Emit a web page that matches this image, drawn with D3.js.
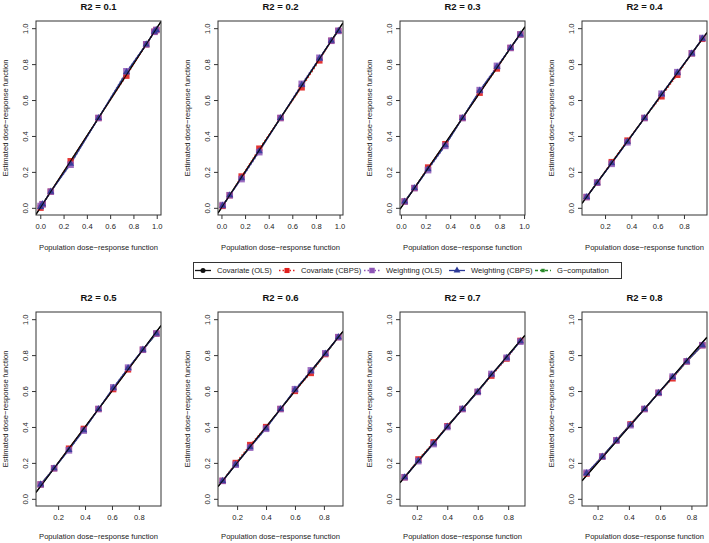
<!DOCTYPE html>
<html><head><meta charset="utf-8">
<script src="https://cdn.jsdelivr.net/npm/d3@7"></script>
<style>
body{margin:0;background:#fff;}
svg{display:block;font-family:"Liberation Sans",Arial,sans-serif;}
</style></head>
<body><svg id="c" width="709" height="543"></svg>
<script>
const panelTitles = ["R2 = 0.1","R2 = 0.2","R2 = 0.3","R2 = 0.4","R2 = 0.5","R2 = 0.6","R2 = 0.7","R2 = 0.8"];
const seriesNames = ["Covariate (OLS)","Covariate (CBPS)","Weighting (OLS)","Weighting (CBPS)","G\u2212computation"];
const yTicks = [0,0.2,0.4,0.6,0.8,1.0];
const xTicks = [
  [0,0.2,0.4,0.6,0.8,1.0],[0,0.2,0.4,0.6,0.8,1.0],[0,0.2,0.4,0.6,0.8,1.0],[0.2,0.4,0.6,0.8],
  [0.2,0.4,0.6,0.8],[0.2,0.4,0.6,0.8],[0.2,0.4,0.6,0.8],[0.2,0.4,0.6,0.8]
];
const popX = [
  [0.003,0.02,0.09,0.26,0.50,0.74,0.91,0.98,0.997],
  [0.01,0.07,0.17,0.32,0.50,0.68,0.83,0.93,0.99],
  [0.03,0.11,0.22,0.36,0.50,0.64,0.78,0.89,0.97],
  [0.06,0.14,0.25,0.37,0.50,0.63,0.75,0.86,0.94],
  [0.07,0.17,0.28,0.39,0.50,0.61,0.72,0.83,0.93],
  [0.10,0.19,0.29,0.40,0.50,0.60,0.71,0.81,0.90],
  [0.12,0.21,0.31,0.40,0.50,0.60,0.69,0.79,0.88],
  [0.13,0.23,0.32,0.41,0.50,0.59,0.68,0.77,0.87]
];
const covOLS = [
  [0.00,0.02,0.09,0.25,0.50,0.75,0.91,0.98,0.99],
  [0.01,0.07,0.17,0.32,0.50,0.68,0.83,0.93,0.985],
  [0.035,0.11,0.22,0.35,0.50,0.65,0.78,0.89,0.965],
  [0.06,0.14,0.25,0.37,0.50,0.63,0.75,0.86,0.94],
  [0.08,0.17,0.275,0.385,0.50,0.615,0.725,0.83,0.92],
  [0.10,0.195,0.29,0.395,0.50,0.605,0.705,0.805,0.90],
  [0.12,0.215,0.31,0.405,0.50,0.595,0.69,0.785,0.88],
  [0.14,0.235,0.325,0.415,0.50,0.59,0.675,0.765,0.855]
];
const covCBPS = [
  [0.00,0.02,0.09,0.26,0.50,0.735,0.91,0.98,0.99],
  [0.01,0.07,0.175,0.33,0.50,0.67,0.82,0.93,0.985],
  [0.035,0.11,0.225,0.355,0.50,0.64,0.775,0.89,0.965],
  [0.06,0.14,0.255,0.375,0.50,0.62,0.74,0.86,0.94],
  [0.08,0.17,0.28,0.39,0.50,0.61,0.72,0.83,0.92],
  [0.10,0.20,0.30,0.40,0.50,0.60,0.70,0.805,0.90],
  [0.12,0.22,0.315,0.405,0.50,0.595,0.685,0.78,0.88],
  [0.14,0.235,0.325,0.415,0.50,0.59,0.67,0.765,0.855]
];
const wtOLS = [
  [0.01,0.02,0.09,0.24,0.50,0.76,0.91,0.98,0.99],
  [0.015,0.07,0.16,0.31,0.50,0.69,0.835,0.93,0.985],
  [0.035,0.11,0.21,0.345,0.50,0.655,0.79,0.89,0.965],
  [0.06,0.14,0.245,0.365,0.50,0.635,0.755,0.86,0.945],
  [0.08,0.17,0.27,0.38,0.50,0.62,0.73,0.83,0.92],
  [0.10,0.19,0.285,0.39,0.50,0.61,0.715,0.81,0.90],
  [0.12,0.21,0.305,0.40,0.50,0.595,0.695,0.785,0.875],
  [0.145,0.235,0.325,0.41,0.50,0.59,0.68,0.765,0.855]
];
const wtCBPS = [
  [0.005,0.02,0.09,0.245,0.50,0.755,0.91,0.98,0.99],
  [0.012,0.07,0.165,0.315,0.50,0.685,0.832,0.93,0.985],
  [0.035,0.11,0.215,0.348,0.50,0.652,0.785,0.89,0.965],
  [0.06,0.14,0.248,0.368,0.50,0.632,0.752,0.86,0.942],
  [0.08,0.17,0.272,0.382,0.50,0.618,0.728,0.83,0.92],
  [0.10,0.192,0.288,0.392,0.50,0.608,0.71,0.808,0.90],
  [0.12,0.212,0.308,0.402,0.50,0.595,0.692,0.785,0.878],
  [0.143,0.235,0.325,0.412,0.50,0.59,0.678,0.765,0.855]
];
const gComp = [
  [0.00,0.02,0.09,0.25,0.50,0.75,0.91,0.98,0.99],
  [0.01,0.07,0.17,0.32,0.50,0.68,0.83,0.93,0.985],
  [0.035,0.11,0.22,0.35,0.50,0.65,0.78,0.89,0.965],
  [0.06,0.14,0.25,0.37,0.50,0.63,0.75,0.86,0.94],
  [0.08,0.17,0.275,0.385,0.50,0.615,0.725,0.83,0.92],
  [0.10,0.195,0.29,0.395,0.50,0.605,0.705,0.805,0.90],
  [0.12,0.215,0.31,0.405,0.50,0.595,0.69,0.785,0.88],
  [0.14,0.235,0.325,0.415,0.50,0.59,0.675,0.765,0.855]
];

const seriesData = [covOLS, covCBPS, wtOLS, wtCBPS, gComp];
const styles = [
  {color:"#111111", dash:null, shape:d3.symbolCircle, size:14, lsize:20, width:1.2, op:1},
  {color:"#e0201e", dash:"1.5,2", shape:d3.symbolSquare, size:38, lsize:26, width:1.2, op:0.9},
  {color:"#8d55b6", dash:"1.5,2", shape:d3.symbolSquare, size:44, lsize:30, width:1.2, op:0.85},
  {color:"#2c3a98", dash:null, shape:d3.symbolTriangle, size:22, lsize:20, width:1.2, op:0.85},
  {color:"#2a8a2a", dash:"3,2", shape:d3.symbolSquare, size:8, lsize:12, width:1.2, op:0.9}
];
const drawOrder = [0,4,1,2,3];

const svg = d3.select("#c");
const lefts = [36, 218, 400, 582];
const boxW = 125;
const rows = [{top:21, bottom:215, lab:35}, {top:312, bottom:506, lab:33}];
const fmt = d3.format(".1f");

panelTitles.forEach((title, i) => {
  const r = Math.floor(i/4), c = i % 4;
  const L = lefts[c], R = L + boxW, T = rows[r].top, B = rows[r].bottom;
  const xs = popX[i];
  const xmin = d3.min(xs), xmax = d3.max(xs), rng = xmax - xmin;
  const x = d3.scaleLinear().domain([xmin - 0.04*rng, xmax + 0.04*rng]).range([L, R]);
  const y = d3.scaleLinear().domain([-0.04, 1.04]).range([B, T]);
  const g = svg.append("g");
  const clipId = "clip" + i;
  svg.append("clipPath").attr("id", clipId).append("rect")
    .attr("x", L).attr("y", T).attr("width", boxW).attr("height", B - T);

  g.append("text").attr("x", (L+R)/2).attr("y", T - 11).attr("text-anchor","middle")
    .attr("font-size", 9.5).attr("font-weight","bold").attr("fill","#111").text(title);

  const xa = g.append("g").attr("transform", `translate(0,${B})`)
    .call(d3.axisBottom(x).tickValues(xTicks[i]).tickFormat(fmt).tickSize(4).tickPadding(5).tickSizeOuter(0));
  xa.select(".domain").remove();
  xa.selectAll("line").attr("stroke","#333");
  xa.selectAll("text").attr("font-size", 7.6).attr("fill","#222").attr("font-family","Liberation Sans, Arial, sans-serif");

  const ya = g.append("g").attr("transform", `translate(${L},0)`)
    .call(d3.axisLeft(y).tickValues(yTicks).tickFormat(fmt).tickSize(4).tickSizeOuter(0));
  ya.select(".domain").remove();
  ya.selectAll("line").attr("stroke","#333");
  ya.selectAll("text").attr("font-size", 7.6).attr("fill","#222").attr("font-family","Liberation Sans, Arial, sans-serif")
    .attr("text-anchor","middle").attr("x", 0).attr("dy", 0)
    .attr("transform", "translate(-11,0) rotate(-90)").attr("y", 2.7);

  g.append("text").attr("x", (L+R)/2).attr("y", B + rows[r].lab).attr("text-anchor","middle")
    .attr("font-size", 7.6).attr("fill","#222").text("Population dose\u2212response function");
  g.append("text").attr("transform", `translate(${L-28},${(T+B)/2}) rotate(-90)`).attr("text-anchor","middle")
    .attr("font-size", 7.6).attr("fill","#222").text("Estimated dose\u2212response function");

  const plot = g.append("g").attr("clip-path", `url(#${clipId})`);
  const dx = x.domain();
  plot.append("line").attr("x1", x(dx[0])).attr("y1", y(dx[0])).attr("x2", x(dx[1])).attr("y2", y(dx[1]))
    .attr("stroke","#000").attr("stroke-width",1.3);

  drawOrder.forEach(s => {
    const st = styles[s];
    const pts = xs.map((xv, k) => [xv, seriesData[s][i][k]]);
    plot.append("path").datum(pts)
      .attr("d", d3.line().x(d => x(d[0])).y(d => y(d[1])))
      .attr("fill","none").attr("stroke", st.color).attr("stroke-width", st.width)
      .attr("stroke-dasharray", st.dash).attr("opacity", st.op);
  });
  drawOrder.forEach(s => {
    const st = styles[s];
    const pts = xs.map((xv, k) => [xv, seriesData[s][i][k]]);
    plot.selectAll(null).data(pts).enter().append("path")
      .attr("d", d3.symbol().type(st.shape).size(st.size))
      .attr("transform", d => `translate(${x(d[0])},${y(d[1])})`)
      .attr("fill", st.color).attr("opacity", st.op);
  });
  // black line on top for reference
  plot.append("line").attr("x1", x(dx[0])).attr("y1", y(dx[0])).attr("x2", x(dx[1])).attr("y2", y(dx[1]))
    .attr("stroke","#000").attr("stroke-width",1.1).attr("opacity",0.85);

  g.append("rect").attr("x", L).attr("y", T).attr("width", boxW).attr("height", B - T)
    .attr("fill","none").attr("stroke","#333").attr("stroke-width",1);
});

const lg = svg.append("g");
lg.append("rect").attr("x",193.5).attr("y",262.5).attr("width",428).attr("height",16)
  .attr("fill","#fff").attr("stroke","#333").attr("stroke-width",1);
const textX = [217, 301, 386, 471, 557];
seriesNames.forEach((name, s) => {
  const st = styles[s];
  const tx = textX[s], cy = 270.5;
  lg.append("line").attr("x1", tx-22).attr("x2", tx-6).attr("y1", cy).attr("y2", cy)
    .attr("stroke", st.color).attr("stroke-width", 1.3).attr("stroke-dasharray", st.dash);
  lg.append("path").attr("d", d3.symbol().type(st.shape).size(st.lsize))
    .attr("transform", `translate(${tx-14},${cy})`).attr("fill", st.color);
  lg.append("text").attr("x", tx).attr("y", cy + 2.7).attr("font-size", 7.6).attr("fill","#222").text(name);
});
</script></body></html>
